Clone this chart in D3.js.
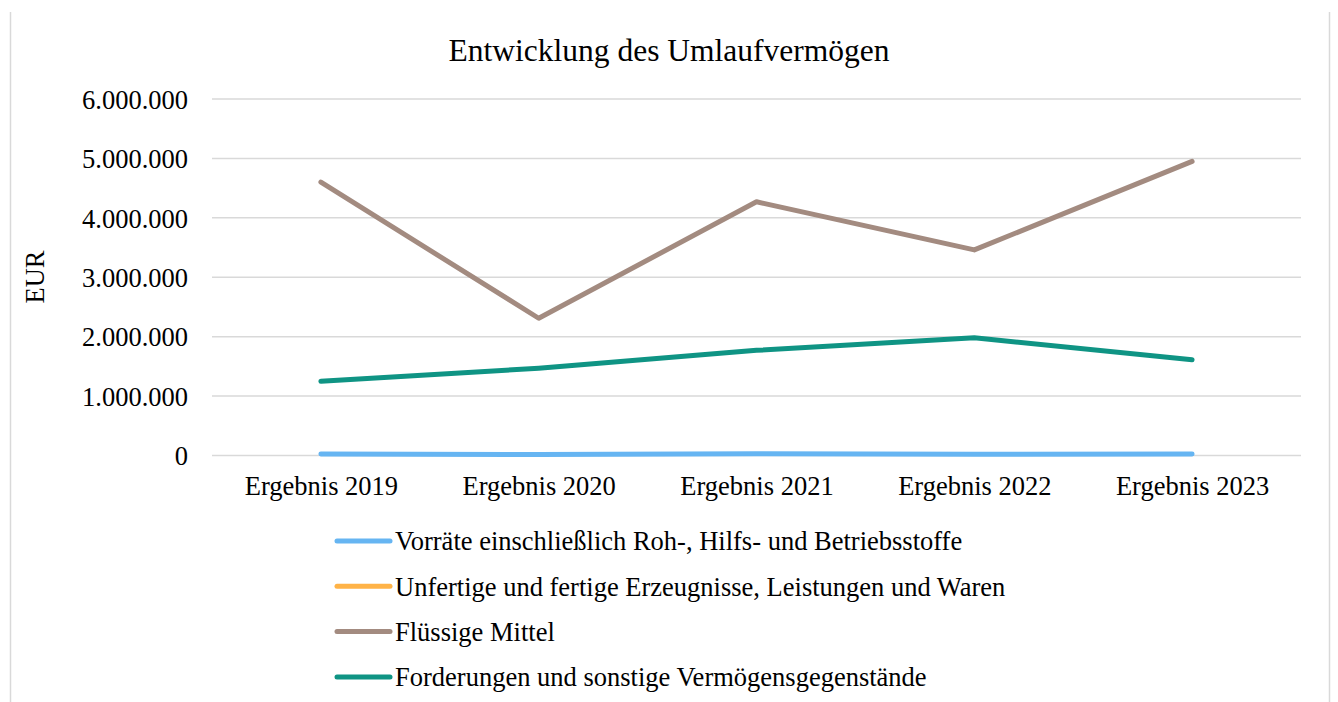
<!DOCTYPE html>
<html><head><meta charset="utf-8">
<script src="https://cdn.jsdelivr.net/npm/d3@7"></script>
<style>body{margin:0;background:#fff;} svg{display:block;}</style>
</head><body>
<svg id="c" width="1338" height="702"></svg>
<script>
const title = "Entwicklung des Umlaufvermögen";
const yTitle = "EUR";
const categories = ["Ergebnis 2019","Ergebnis 2020","Ergebnis 2021","Ergebnis 2022","Ergebnis 2023"];
const seriesNames = ["Vorräte einschließlich Roh-, Hilfs- und Betriebsstoffe","Unfertige und fertige Erzeugnisse, Leistungen und Waren","Flüssige Mittel","Forderungen und sonstige Vermögensgegenstände"];
const vorraete = [25000, 15000, 30000, 20000, 25000];
const unfertige = [null, null, null, null, null];
const fluessige = [4600000, 2310000, 4270000, 3460000, 4950000];
const forderungen = [1250000, 1470000, 1770000, 1980000, 1610000];
const colors = ["#66b5f2", "#ffb347", "#a38b80", "#0f9484"];
const yTicks = [0,1000000,2000000,3000000,4000000,5000000,6000000];

const svg = d3.select("#c");
const font = "'Liberation Serif','Times New Roman',serif";
const L = 212, R = 1301, T = 99, B = 455.5;

// frame edges
svg.append("line").attr("x1",10.5).attr("x2",10.5).attr("y1",12).attr("y2",702).attr("stroke","#d9d9d9").attr("stroke-width",1.5);
svg.append("line").attr("x1",1329.5).attr("x2",1329.5).attr("y1",12).attr("y2",702).attr("stroke","#d9d9d9").attr("stroke-width",1.5);

const x = d3.scalePoint().domain(categories).range([L,R]).padding(0.5);
const y = d3.scaleLinear().domain([0,6000000]).range([B,T]);
const fmt = d => d3.format(",")(d).replace(/,/g,".");

// grid
svg.append("g").selectAll("line").data(yTicks).join("line")
  .attr("x1",L).attr("x2",R).attr("y1",d=>y(d)).attr("y2",d=>y(d))
  .attr("stroke","#d9d9d9").attr("stroke-width",1.5);

const yAxis = svg.append("g").attr("transform",`translate(${L},0)`)
  .call(d3.axisLeft(y).tickValues(yTicks).tickFormat(fmt).tickSize(0).tickPadding(24));
yAxis.select(".domain").remove();
yAxis.selectAll("text").attr("font-family",font).attr("font-size",26.5).attr("fill","#000").attr("dy","0.35em");

const xAxis = svg.append("g").attr("transform",`translate(0,${B})`)
  .call(d3.axisBottom(x).tickSize(0).tickPadding(21));
xAxis.select(".domain").remove();
xAxis.selectAll("text").attr("font-family",font).attr("font-size",26.5).attr("fill","#000");

svg.append("text").attr("x",669).attr("y",61).attr("text-anchor","middle")
  .attr("font-family",font).attr("font-size",31.5).text(title);
svg.append("text").attr("transform","translate(44,277) rotate(-90)").attr("text-anchor","middle")
  .attr("font-family",font).attr("font-size",26.5).text(yTitle);

const data = [vorraete, unfertige, fluessige, forderungen];
const line = d3.line().defined(d=>d.v!=null).x(d=>x(d.c)).y(d=>y(d.v));
data.forEach((vals,i)=>{
  const pts = categories.map((c,j)=>({c, v: vals[j]}));
  svg.append("path").attr("d",line(pts)).attr("fill","none")
    .attr("stroke",colors[i]).attr("stroke-width",5).attr("stroke-linecap","round").attr("stroke-linejoin","round");
});

const lg = svg.append("g");
seriesNames.forEach((n,i)=>{
  const yy = 541 + i*45.3;
  lg.append("line").attr("x1",337).attr("x2",390).attr("y1",yy).attr("y2",yy)
    .attr("stroke",colors[i]).attr("stroke-width",5).attr("stroke-linecap","round");
  lg.append("text").attr("x",395).attr("y",yy).attr("dy","0.35em")
    .attr("font-family",font).attr("font-size",26.5).text(n);
});
</script>
</body></html>
